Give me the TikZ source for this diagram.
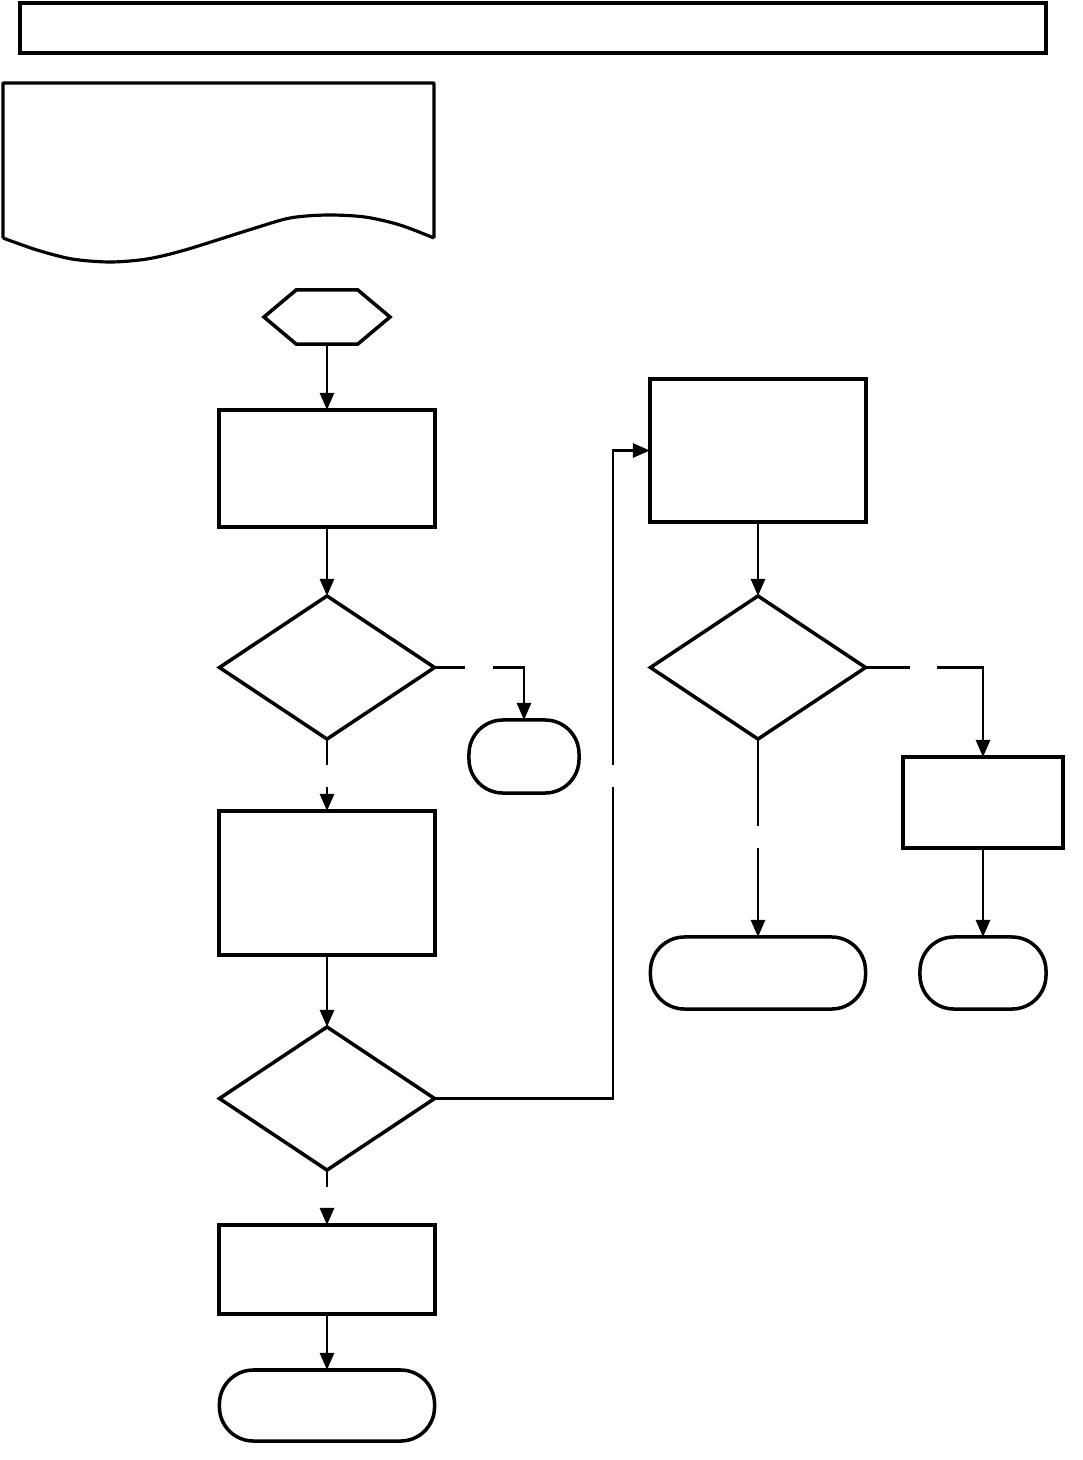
\documentclass[tikz,border=0pt]{standalone}
\usepackage{tikz}
\usetikzlibrary{arrows.meta,shapes.geometric,shapes.symbols}
\tikzset{
	procbox/.style={draw, rectangle, line width=1.15pt, inner sep=0pt, outer sep=0pt},
	decbox/.style={draw, diamond, line width=1pt, inner sep=0pt, outer sep=0pt, minimum width=2.15cm, minimum height=1.43cm},
	termbox/.style={draw, rectangle, rounded corners=0.34cm, line width=1pt, inner sep=0pt, outer sep=0pt},
	startbox/.style={draw, signal, signal to=east and west, signal pointer angle=80, line width=1pt, inner sep=0pt, outer sep=0pt},
	link/.style={line width=0.75pt},
	arrow/.style={link, -{Triangle[width=0.14cm,length=0.17cm]}}
}

\begin{document}
\begin{tikzpicture}[x=0.01cm, y=-0.01cm]
			%%%%% START %%%%%
			\useasboundingbox (0, 0) rectangle (1083, 1460);
			
			\node[procbox, minimum width=10.26cm, minimum height=0.5cm] (bar) at (533, 28) {};
			
			\draw[line width=0.9pt, line join=round] (434, 238) -- (434, 83) -- (3, 83) -- (3, 238)
				plot[smooth, tension=0.5] coordinates {(3, 238) (37, 250) (72, 259) (110, 262) (147, 259) (185, 250) (252, 229) (290, 218) (327, 215) (365, 217) (400, 225) (434, 238)};
			
			\node[startbox, minimum width=1.26cm, minimum height=0.54cm] (start) at (327, 317) {};
			
			\node[procbox, minimum width=2.16cm, minimum height=1.17cm] (box1) at (327, 468.5) {};
			\node[decbox] (d1) at (327, 667.5) {};
			\node[termbox, minimum width=1.10cm, minimum height=0.73cm] (t1) at (524, 756.5) {};
			\node[procbox, minimum width=2.16cm, minimum height=1.44cm] (box2) at (327, 883) {};
			\node[decbox] (d2) at (327, 1098.5) {};
			\node[procbox, minimum width=2.16cm, minimum height=0.89cm] (box4) at (327, 1269.5) {};
			\node[termbox, minimum width=2.15cm, minimum height=0.71cm] (t4) at (327, 1405.5) {};
			
			\node[procbox, minimum width=2.16cm, minimum height=1.43cm] (box3) at (758, 450.5) {};
			\node[decbox] (d3) at (758, 667.5) {};
			\node[procbox, minimum width=1.60cm, minimum height=0.91cm] (box5) at (983, 802.5) {};
			\node[termbox, minimum width=2.15cm, minimum height=0.72cm] (t3) at (758, 973) {};
			\node[termbox, minimum width=1.26cm, minimum height=0.72cm] (t5) at (983, 973) {};
			
			% gaps in the connectors
			\coordinate (g1a) at (465, 667.5);
			\coordinate (g1b) at (493, 667.5);
			\coordinate (g2a) at (327, 765);
			\coordinate (g2b) at (327, 787);
			\coordinate (g3a) at (613, 787);
			\coordinate (g3b) at (613, 765);
			\coordinate (g4a) at (327, 1187);
			\coordinate (g4b) at (327, 1210);
			\coordinate (g5a) at (910, 667.5);
			\coordinate (g5b) at (937, 667.5);
			\coordinate (g6a) at (758, 826);
			\coordinate (g6b) at (758, 848);
			
			\draw[arrow] (start.south) -- (box1.north);
			\draw[arrow] (box1.south) -- (d1.north);
			\draw[link] (d1.east) -- (g1a);
			\draw[arrow] (g1b) -| (t1.north);
			\draw[link] (d1.south) -- (g2a);
			\draw[arrow] (g2b) -- (box2.north);
			\draw[arrow] (box2.south) -- (d2.north);
			\draw[link] (d2.east) -| (g3a);
			\draw[arrow] (g3b) |- (box3.west);
			\draw[link] (d2.south) -- (g4a);
			\draw[arrow] (g4b) -- (box4.north);
			\draw[arrow] (box4.south) -- (t4.north);
			
			\draw[arrow] (box3.south) -- (d3.north);
			\draw[link] (d3.east) -- (g5a);
			\draw[arrow] (g5b) -| (box5.north);
			\draw[arrow] (box5.south) -- (t5.north);
			\draw[link] (d3.south) -- (g6a);
			\draw[arrow] (g6b) -- (t3.north);
			
			%%%%% END %%%%%
		\end{tikzpicture}
\end{document}
